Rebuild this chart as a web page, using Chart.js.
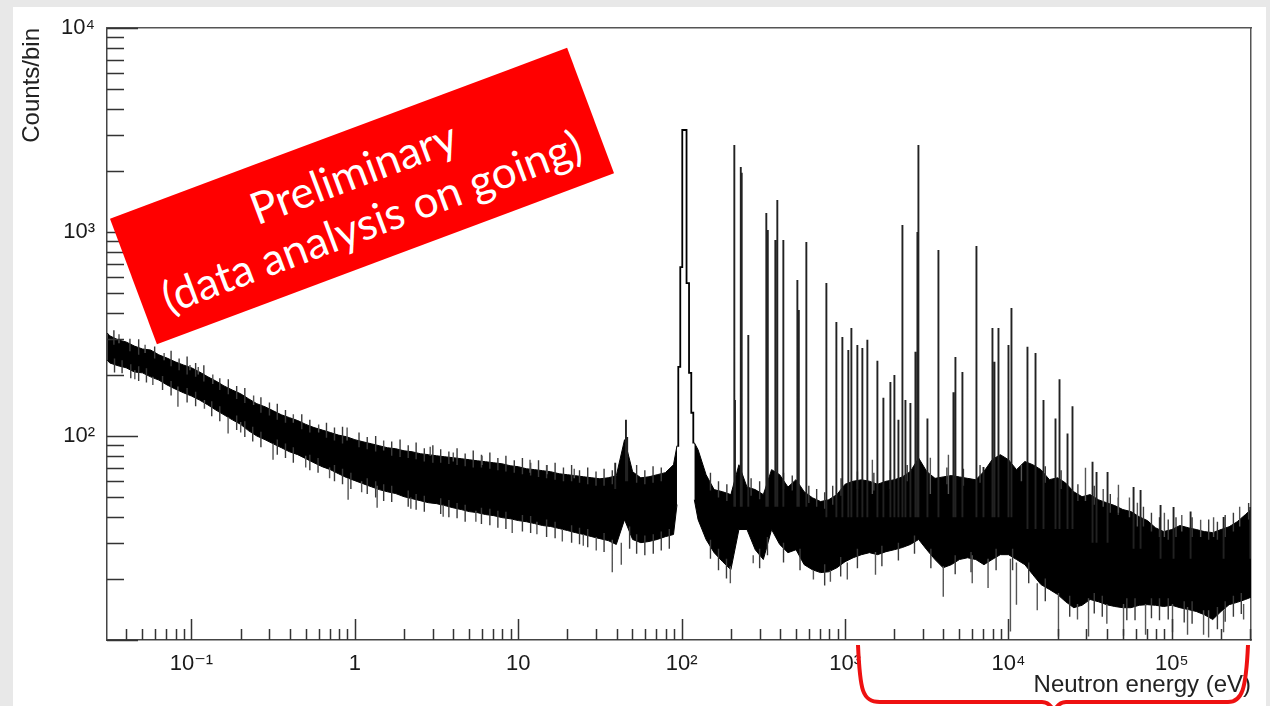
<!DOCTYPE html>
<html>
<head>
<meta charset="utf-8">
<script src="https://cdn.jsdelivr.net/npm/chart.js@4/dist/chart.umd.min.js"></script>
<style>
  html, body { margin: 0; padding: 0; width: 1270px; height: 706px; overflow: hidden; background: #e8e8e8; }
  #panel { position: absolute; left: 13px; top: 7px; width: 1253px; height: 699px; background: #ffffff; }
  #c { position: absolute; left: 0; top: 0; }
  #stamp { position: absolute; left: 118px; top: 129px; width: 488px; height: 134px; background: #ff0000; color: #ffffff;
           transform: rotate(-20.5deg); font-family: Lato, "Open Sans", sans-serif; font-size: 44px; line-height: 52px;
           text-align: center; display: flex; flex-direction: column; justify-content: center; }
  #brace { position: absolute; left: 0; top: 0; }
</style>
</head>
<body>
<div id="panel"></div>
<canvas id="c" width="1270" height="706"></canvas>
<div id="stamp"><div>Preliminary</div><div>(data analysis on going)</div></div>
<svg id="brace" width="1270" height="706">
  <path d="M858,645 C860,690 862,702 880,702 L1042,702 Q1050,702 1054,712 Q1058,702 1066,702 L1228,702 C1242,702 1246,690 1248,645"
        fill="none" stroke="#ee1111" stroke-width="4"/>
</svg>
<script>
// ---- axis tick labels ----
const xMajorTicks = [0.1, 1, 10, 100, 1000, 10000, 100000];
const xTickLabels = ['10\u207B\u00B9', '1', '10', '10\u00B2', '10\u00B3', '10\u2074', '10\u2075'];
const yMajorTicks = [100, 1000, 10000];
const yTickLabels = ['10\u00B2', '10\u00B3', '10\u2074'];

// ---- continuum band (bin energy in eV, upper / lower edge of the noisy band in counts/bin) ----
const energy = [0.0305, 0.0316, 0.0355, 0.0398, 0.0447, 0.0501, 0.0562, 0.0631, 0.0708, 0.0794, 0.0891,
  0.1, 0.112, 0.126, 0.141, 0.158, 0.178, 0.2, 0.224, 0.251, 0.282, 0.316, 0.355, 0.398, 0.447, 0.501, 0.562, 0.631, 0.708, 0.794, 0.891,
  1, 1.12, 1.26, 1.41, 1.58, 1.78, 2, 2.24, 2.51, 2.82, 3.16, 3.55, 3.98, 4.47, 5.01, 5.62, 6.31, 7.08, 7.94, 8.91,
  10, 11.2, 12.6, 14.1, 15.8, 17.8, 20, 22.4, 25.1, 28.2, 31.6, 35.5, 39.8, 44.7, 50.1, 56.2, 63.1, 70.8, 79.4, 89.1,
  93.6, 105, 119.5, 126, 141, 158, 178, 200, 224, 251, 282, 316, 355, 398, 447, 501, 562, 631, 708, 794, 891,
  1000, 1120, 1260, 1410, 1580, 1780, 2000, 2240, 2510, 2820, 3160, 3550, 3980, 4470, 5010, 5620, 6310, 7080, 7940, 8910,
  10000, 11200, 12600, 14100, 15800, 17800, 20000, 22400, 25100, 28200, 31600, 35500, 39800, 44700, 50100, 56200, 63100, 70800, 79400, 89100,
  100000, 112000, 126000, 141000, 158000, 178000, 200000, 224000, 251000, 282000, 305000];

const bandUpper = [320, 310, 296, 289, 276, 267, 264, 250, 241, 231, 223,
  216, 206, 195, 186, 176, 168, 161, 152, 144, 139, 133, 127, 123, 119, 114, 110, 107, 104, 101, 99.1,
  95.9, 93.7, 91.6, 89.6, 87.6, 86.6, 84.6, 83.7, 81.9, 81.0, 80.0, 79.1, 78.3, 77.4, 76.5, 75.6, 74.8, 73.9, 73.1, 71.5,
  70.7, 69.1, 68.4, 67.6, 66.8, 65.3, 64.6, 63.9, 63.1, 62.4, 61.7, 62.4, 63.9, 95.9, 66.8, 62.4, 63.1, 64.6, 66.1, 72.3,
  89.6, null, 92.7, 85.6, 64.6, 54.6, 53.3, 51.6, 72.3, 56.2, 54.6, 51.6, 68.4, 64.6, 56.2, 61.1, 53.3, 49.8, 47.7, 48.7, 51.6,
  58, 60, 61, 60, 58, 60, 61, 63, 67, 78, 67, 62, 63, 64, 63, 62, 61, 67, 76.5, 81.0,
  76.5, 68.4, 75.0, 72.3, 68.4, 61.1, 62.4, 58.8, 53.3, 50.4, 51.6, 48.7, 47.1, 45.6, 43.6, 42.6, 40.2, 38.5, 35.5, 34.0,
  34.8, 36.4, 35.5, 34.8, 34.0, 33.6, 34.8, 35.9, 38.0, 41.2, 43.6];

const bandLower = [236, 228, 221, 216, 206, 204, 195, 188, 178, 170, 163,
  157, 150, 142, 134, 127, 120, 114, 106, 100, 95.9, 91.6, 87.6, 83.7, 81.0, 77.4, 73.9, 70.7, 68.4, 65.3, 62.5,
  60.4, 58.4, 56.4, 54.6, 53.3, 52.2, 50.4, 49.3, 48.2, 47.1, 46.6, 45.6, 44.5, 43.6, 42.6, 42.1, 41.2, 40.7, 39.8, 39.3,
  38.5, 38.0, 37.2, 36.4, 36.0, 35.2, 34.4, 33.6, 32.9, 32.1, 31.4, 30.7, 29.4, 38.9, 31.1, 30.0, 30.4, 31.1, 32.1, 32.9,
  46.1, null, 48.7, 38.9, 31.1, 26.8, 24.2, 22.1, 34.8, 34.8, 27.7, 24.8, 34.8, 29.4, 26.8, 27.7, 23.4, 22.1, 21.4, 21.6, 22.6,
  24.2, 25.3, 26.2, 26.8, 26.2, 27.1, 27.7, 28.4, 29.4, 31.1, 27.7, 24.8, 22.6, 23.4, 24.8, 25.3, 24.8, 23.4, 24.8, 26.2,
  26.2, 24.8, 23.4, 20.9, 18.7, 17.7, 16.7, 15.4, 14.4, 14.8, 15.8, 15.4, 14.9, 14.6, 14.4, 14.4, 14.8, 14.9, 14.8, 14.6,
  14.8, 14.4, 14.1, 13.8, 13.3, 12.6, 13.8, 14.9, 15.3, 15.8, 16.2];

// ---- broad resonance near 100 eV (histogram outline) ----
const resEnergy = [94.0, 96.7, 99.4, 102.3, 105.2, 109.0, 112.9, 116.1, 119.5];
const resCounts = [89.6, 218, 673, 3162, 3162, 562, 204, 130, 92.7];

// ---- narrow resonance peaks: energy, count at band, peak count ----
const peakEnergy = [39.2, 45.6, 46.4, 210, 212, 230, 233, 255.7, 329.6, 336.5, 374.3, 384.9, 419, 510.6, 521, 579.4,
  768.4, 884.6, 962.7, 1047, 1093, 1189, 1276, 1369, 1577, 1716, 1894, 2004, 2121, 2244, 2341, 2511, 2695, 2772, 2811,
  3192, 3727, 4605, 4736, 5226, 6368, 7031, 7980, 8209, 8686, 10000, 10430, 13070, 14640, 16380, 19400, 20530, 22980,
  24650, 32690, 34590, 40400, 58290, 64330, 85260, 102400, 130200, 207300, 302000];
const peakBase = [55, 60, 60, 45, 45, 45, 45, 45, 45, 45, 45, 45, 45, 45, 45, 45,
  40, 40, 40, 40, 40, 40, 40, 40, 40, 40, 40, 40, 40, 40, 40, 40, 40, 40, 40,
  40, 40, 40, 40, 40, 40, 40, 40, 40, 40, 40, 40, 35, 35, 35, 35, 35, 35,
  35, 30, 30, 30, 28, 28, 25, 25, 25, 25, 25];
const peakCounts = [73.9, 120, 99, 2670, 150, 2084, 1950, 313, 1240, 1023, 914, 1435, 914, 582, 415, 894,
  562, 362, 306, 264, 338, 279, 270, 296, 234, 154, 184, 199, 120, 1081, 150, 145, 259, 1000, 2670,
  122, 816, 164, 244, 206, 854, 70.5, 338, 231, 338, 279, 424, 274, 255, 150, 122, 190, 103,
  140, 74.7, 66.6, 66.6, 56.2, 54.3, 45.9, 44.9, 42.6, 40.1, 44.9];

// ---- larger single-bin fluctuations poking out of the band ----
const flucEnergy = [0.0826, 0.0979, 0.1675, 0.3155, 0.896, 0.909, 1.368, 2.89, 3.47, 9.18, 11.8, 18.6, 25.0, 37.6, 42.7,
  198.5, 274, 640, 813, 1032, 1469, 1535, 3326, 3990, 4290, 10280, 11190, 20230, 26450, 29600, 30900, 47100, 50600,
  61500, 69000, 100900, 124700, 150000, 156300, 167800, 207200, 274800,
  0.036, 0.045, 0.052, 0.058, 0.068, 0.11, 0.12, 0.135, 0.2, 0.24, 0.42, 0.5, 0.6, 0.7, 1.1, 1.5,
  2.2, 4.0, 5.5, 6.0, 13, 15, 22, 30, 6000, 7500, 12000, 15000, 38000, 40000, 55000, 90000, 115000, 180000, 260000];
const flucFrom = [175, 210, 124, 92, 95, 62, 57, 80, 46, 39, 66, 35, 33, 31, 30,
  23, 26, 22, 22, 24, 52, 27, 52, 23, 52, 25, 24, 17, 15, 48, 16, 42, 15,
  36, 15, 15, 14.5, 32, 14, 14, 14, 15,
  285, 210, 255, 195, 235, 200, 150, 180, 117, 142, 116, 80, 104, 70, 60, 85,
  50, 75, 43, 72, 38, 65, 62, 32, 26, 25, 60, 19, 45, 15, 40, 32, 34, 32, 36];
const flucTo = [139, 223, 103, 76.5, 110, 48.7, 44.5, 88.6, 40.2, 33.5, 76.5, 30.4, 29.0, 21.5, 23.4,
  19.0, 23.8, 19.8, 19.3, 19.8, 76.5, 20.9, 78.3, 16.3, 81, 11.0, 14.9, 10.4, 12.6, 69.9, 10.4, 57.7, 10.5,
  47.1, 10.6, 10.9, 10.6, 38.9, 10.6, 10.3, 10.9, 12.6,
  315, 190, 280, 178, 255, 218, 136, 200, 104, 158, 128, 70, 114, 62, 53, 95,
  44, 83, 38, 80, 33, 72, 69, 27.5, 19, 18, 72, 14, 55, 12, 50, 42, 41, 40, 45];

// ---- small fringe fluctuations along the top edge of the band ----
const fringeUpEnergy = [0.0335, 0.042, 0.0475, 0.0595, 0.075, 0.084, 0.094, 0.106, 0.119, 0.149, 0.168, 0.189, 0.212,
  0.266, 0.3, 0.335, 0.376, 0.473, 0.53, 0.67, 0.75, 0.84, 1.06, 1.19, 1.34, 1.68, 1.89, 2.12, 2.37, 2.66, 3.0, 3.35,
  3.76, 4.22, 4.73, 5.3, 5.95, 6.7, 7.5, 8.4, 9.45, 10.6, 11.9, 13.3, 14.9, 16.8, 18.9, 21.2, 23.7, 26.6, 29.9, 33.5,
  37.6, 53, 59.5, 66.8, 75, 150, 168, 189, 266, 300, 420, 475, 600, 670, 750, 840, 945, 1190, 1500, 1890, 2400, 4200,
  5300, 6700, 16800, 21000, 26600, 33500, 42000, 47000, 67000, 75000, 84000, 95000, 106000, 133000, 168000, 190000,
  212000, 238000, 295000];
const fringeUpFrom = [280, 260, 250, 240, 220, 210, 200, 195, 185, 168, 160, 152, 145,
  130, 126, 120, 116, 108, 104, 98, 95, 92, 88, 86, 84, 80, 79, 78, 77, 75, 74, 74,
  73, 72, 71, 70, 70, 69, 68, 67, 66, 65, 64, 63, 62, 61, 60, 60, 59, 58, 57, 57,
  58, 59, 58, 59, 60, 54, 50, 48, 51, 49, 55, 54, 47, 45, 44, 46, 51, 55, 54, 55, 60, 58,
  57, 59, 59, 55, 48, 46, 42, 41, 36, 34, 32, 31, 32, 32, 31, 31,
  32, 34, 39];
const fringeUpTo = [330, 300, 298, 275, 262, 240, 245, 228, 222, 192, 190, 176, 172,
  155, 146, 144, 134, 128, 120, 116, 110, 111, 104, 99, 100, 94, 96, 90, 93, 87, 90, 86,
  84, 87, 82, 85, 81, 83, 78, 80, 76, 78, 74, 76, 72, 74, 70, 72, 68, 70, 67, 69,
  68, 72, 68, 71, 70, 66, 60, 58, 62, 60, 66, 64, 57, 55, 53, 57, 62, 67, 66, 68, 72, 70,
  69, 72, 71, 68, 58, 57, 52, 50, 45, 42, 40, 39, 40, 40, 39, 38,
  41, 42, 47];

// ---- small fringe fluctuations along the bottom edge of the band ----
const fringeLowEnergy = [0.0338, 0.0376, 0.0425, 0.0475, 0.053, 0.0665, 0.075, 0.094, 0.106, 0.133, 0.149, 0.189, 0.212,
  0.237, 0.266, 0.335, 0.376, 0.42, 0.53, 0.595, 0.75, 0.84, 0.945, 1.19, 1.34, 1.5, 1.68, 2.12, 2.37, 2.66, 3.35, 3.76,
  4.22, 4.73, 5.95, 6.7, 7.5, 8.4, 10.6, 11.9, 14.9, 16.8, 21.2, 23.7, 26.6, 33.5, 48, 53, 59.5, 67, 75, 84,
  150, 168, 188, 300, 335, 420, 530, 750, 940, 1190, 1680, 2120, 2660, 3350, 4720, 5900, 8400, 10600, 13300, 16800,
  23700, 33500, 37500, 53000, 59500, 75000, 84000, 95000, 119000, 133000, 190000, 212000, 238000, 266000];
const fringeLowFrom = [240, 235, 225, 220, 215, 197, 186, 172, 165, 148, 140, 126, 118,
  111, 105, 96, 92, 88, 81, 78, 72, 69, 66, 62, 60, 58, 57, 54, 52, 51, 49.5, 48.5,
  47, 46, 44.5, 44, 43, 42.5, 41, 40.5, 39, 38, 36.5, 35.5, 35, 33.5, 36, 33, 32.5, 33, 34, 35,
  31, 28, 25, 28, 32, 30, 28, 23.5, 25.5, 28, 29, 30, 32.5, 28, 26, 27, 28, 28, 24, 20,
  16.5, 17, 16.5, 16, 16, 16, 16, 16, 15.5, 15.5, 14.5, 15.5, 16.5, 17];
const fringeLowTo = [205, 203, 192, 186, 183, 168, 158, 146, 140, 125, 118, 107, 99,
  94, 88, 81, 78, 74, 68, 66, 60, 58, 55, 52, 50, 48, 47.5, 45, 43.5, 42.5, 41.5, 40,
  39.5, 38, 37, 36.5, 35.5, 35, 34, 33.5, 32, 31.5, 30, 29.5, 28.5, 27, 28, 26.5, 26, 26.5, 27.5, 28,
  25, 22, 20, 22.5, 26, 24, 22, 18.5, 20.5, 22.5, 23, 24.5, 26.5, 22.5, 21, 21.5, 22, 22, 19, 15.5,
  13, 13.5, 13, 12.5, 12.5, 12.8, 12.5, 12.6, 12.2, 12, 11.3, 12.3, 13, 13.4];

function pts(xs, ys) { return xs.map((x, i) => ({ x: x, y: ys[i] })); }
function segs(xs, a, b) {
  const out = [];
  xs.forEach((x, i) => { out.push({ x: x, y: a[i] }, { x: x, y: b[i] }, { x: x, y: null }); });
  return out;
}
function isDecade(v) { const l = Math.log10(v); return Math.abs(l - Math.round(l)) < 1e-6; }
function logTickValues(min, max) {
  const out = [];
  for (let e = Math.floor(Math.log10(min)); e <= Math.ceil(Math.log10(max)); e++) {
    for (let m = 1; m < 10; m++) {
      const v = m * Math.pow(10, e);
      if (v >= min * 0.999 && v <= max * 1.001) out.push(v);
    }
  }
  return out;
}

// ROOT-style tick marks drawn inside the frame, located through the chart's own scales
const rootTicks = {
  id: 'rootTicks',
  afterDatasetsDraw(chart) {
    const { ctx, chartArea: a, scales } = chart;
    const x = scales.x, y = scales.y;
    ctx.save();
    ctx.strokeStyle = '#333';
    ctx.lineWidth = 1.5;
    ctx.beginPath();
    logTickValues(x.min, x.max).forEach(v => {
      const p = Math.round(x.getPixelForValue(v)) + 0.5;
      const len = isDecade(v) ? 21 : 11;
      ctx.moveTo(p, a.bottom); ctx.lineTo(p, a.bottom - len);
    });
    logTickValues(y.min, y.max).forEach(v => {
      const p = Math.round(y.getPixelForValue(v)) + 0.5;
      const len = isDecade(v) ? 31 : 17;
      ctx.moveTo(a.left, p); ctx.lineTo(a.left + len, p);
    });
    ctx.stroke();
    ctx.restore();
  }
};

const FONT = "'Liberation Sans', Arial, 'DejaVu Sans', sans-serif";
const thin = (label, data, color, width, order) => ({ label, data, borderColor: color, borderWidth: width,
  fill: false, pointRadius: 0, spanGaps: false, order });

new Chart(document.getElementById('c'), {
  type: 'line',
  data: {
    datasets: [
      { label: 'band upper', data: pts(energy, bandUpper), borderColor: '#000', borderWidth: 1,
        backgroundColor: '#000', fill: '+1', pointRadius: 0, spanGaps: false, order: 6 },
      { label: 'band lower', data: pts(energy, bandLower), borderColor: '#000', borderWidth: 1,
        fill: false, pointRadius: 0, spanGaps: false, order: 6 },
      thin('fringe top', segs(fringeUpEnergy, fringeUpFrom, fringeUpTo), '#3a3a3a', 1.4, 5),
      thin('fringe bottom', segs(fringeLowEnergy, fringeLowFrom, fringeLowTo), '#3a3a3a', 1.4, 4),
      thin('fluctuations', segs(flucEnergy, flucFrom, flucTo), '#555', 1.4, 3),
      thin('peaks', segs(peakEnergy, peakBase, peakCounts), '#222', 1.9, 2),
      { label: 'resonance 100 eV', data: pts(resEnergy, resCounts), stepped: 'middle', borderColor: '#000', borderWidth: 1.8,
        fill: false, pointRadius: 0, spanGaps: false, order: 1 }
    ]
  },
  options: {
    responsive: false,
    animation: false,
    devicePixelRatio: 1,
    events: [],
    layout: { padding: { left: 0, top: 28, right: 19, bottom: 0 } },
    plugins: { legend: { display: false }, tooltip: { enabled: false } },
    scales: {
      x: {
        type: 'logarithmic', position: 'bottom', min: 0.0304, max: 305000,
        afterFit(s) { s.height = 66; },
        afterBuildTicks(s) { s.ticks = xMajorTicks.map(v => ({ value: v })); },
        ticks: { autoSkip: false, maxRotation: 0, minRotation: 0, padding: 11, color: '#1a1a1a',
                 font: { family: FONT, size: 22 }, callback: (v, i) => xTickLabels[i] },
        grid: { display: true, drawOnChartArea: false, drawTicks: false },
        border: { display: true, color: '#444', width: 1.5 },
        title: { display: true, text: 'Neutron energy (eV)', align: 'end', color: '#222',
                 font: { family: FONT, size: 24 }, padding: { top: 0, bottom: 6 } }
      },
      y: {
        type: 'logarithmic', position: 'left', min: 10, max: 10000,
        afterFit(s) { s.width = 107; },
        afterBuildTicks(s) { s.ticks = yMajorTicks.map(v => ({ value: v })); },
        ticks: { autoSkip: false, padding: 12, color: '#1a1a1a',
                 font: { family: FONT, size: 22 }, callback: (v, i) => yTickLabels[i] },
        grid: { display: true, drawOnChartArea: false, drawTicks: false },
        border: { display: true, color: '#444', width: 1.5 },
        title: { display: true, text: 'Counts/bin', align: 'end', color: '#222',
                 font: { family: FONT, size: 24 }, padding: { top: 18, bottom: 0 } }
      },
      x2: {
        type: 'linear', position: 'top', min: 0, max: 1,
        afterFit(s) { s.height = 0; },
        ticks: { display: false },
        grid: { display: true, drawOnChartArea: false, drawTicks: false },
        border: { display: true, color: '#555', width: 1.5 }
      },
      y2: {
        type: 'linear', position: 'right', min: 0, max: 1,
        afterFit(s) { s.width = 0; },
        ticks: { display: false },
        grid: { display: true, drawOnChartArea: false, drawTicks: false },
        border: { display: true, color: '#555', width: 1.5 }
      }
    }
  },
  plugins: [rootTicks]
});
</script>
</body>
</html>
